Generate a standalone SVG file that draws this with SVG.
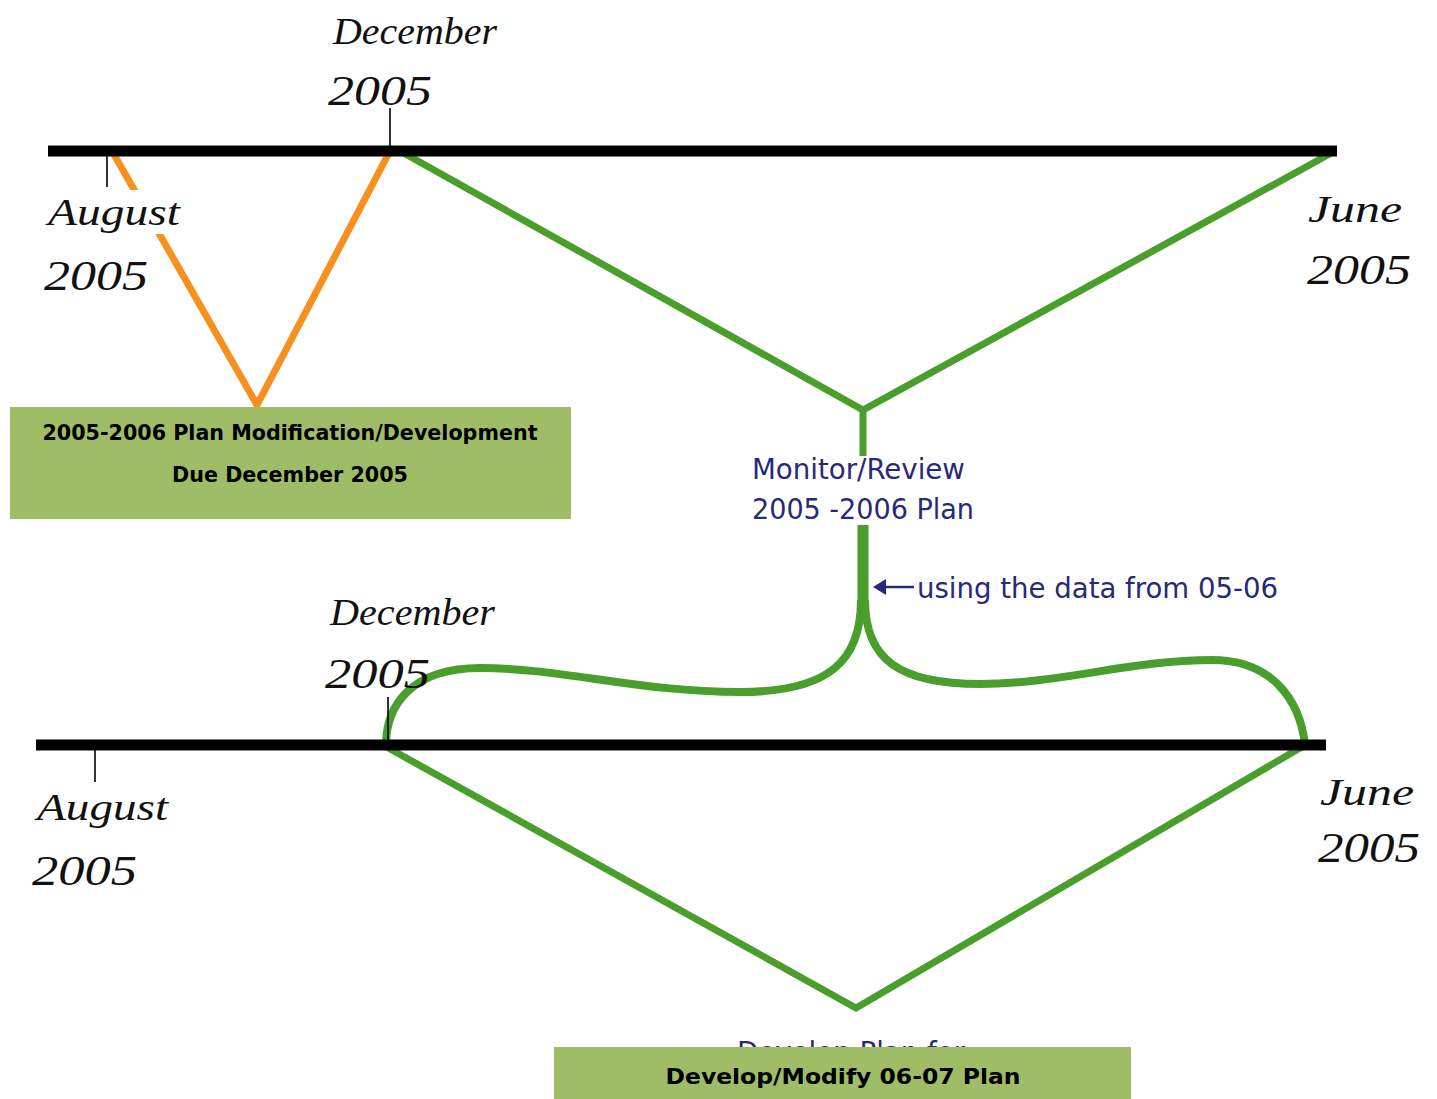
<svg xmlns="http://www.w3.org/2000/svg" width="1437" height="1099" viewBox="0 0 1437 1099">
<defs>
<style>
.axis{stroke:#000;stroke-width:11;stroke-linecap:butt;fill:none}
.tick{stroke:#000;stroke-width:1.6;fill:none}
.green{stroke:#4A9E2C;stroke-width:7;fill:none;stroke-linejoin:miter;stroke-linecap:butt}
.curve{stroke-width:8}
.orange{stroke:#F7901E;stroke-width:7;fill:none;stroke-linejoin:miter}
.script{font-family:"Liberation Serif","DejaVu Serif",serif;font-style:italic;fill:#111}
.blue{font-family:"DejaVu Sans Condensed","DejaVu Sans",sans-serif;fill:#27297A;font-size:29px}
.box{fill:#9FBD66}
.boxt{font-family:"DejaVu Sans","Liberation Sans",sans-serif;font-weight:bold;font-size:21px;fill:#000;text-anchor:middle}
</style>
<clipPath id="above-box"><rect x="700" y="1030" width="300" height="17"/></clipPath>
</defs>
<rect width="1437" height="1099" fill="#fff"/>
<g id="connectors">
<polyline class="orange" points="112,151 257,405 390,151"/>
<polyline class="green" points="400,151 863,410 1335,151"/>
<line class="green" x1="863" y1="408" x2="863" y2="456"/>
<line class="green" x1="863" y1="525" x2="863" y2="615" style="stroke-width:11"/>
<path class="green curve" d="M861 600 C861 660 830 692 740 692 C640 692 560 668 480 668 C412 668 386 705 386 745"/>
<path class="green curve" d="M865 600 C865 660 900 684 980 684 C1060 684 1130 660 1212 660 C1272 660 1300 700 1305 745"/>
<polyline class="green" points="383,745 856,1008 1305,745"/>
</g>
<g id="timeline-top">
<line class="axis" x1="48" y1="151" x2="1337" y2="151"/>
<line class="tick" x1="107" y1="151" x2="107" y2="187"/>
<line class="tick" x1="390" y1="108" x2="390" y2="151"/>
</g>
<g id="timeline-bottom">
<line class="axis" x1="36" y1="745" x2="1326" y2="745"/>
<line class="tick" x1="95" y1="745" x2="95" y2="782"/>
<line class="tick" x1="388" y1="697" x2="388" y2="745"/>
</g>
<g id="label-aug-top">
<rect x="44" y="190" width="140" height="44" fill="#fff"/>
<text class="script" x="48" y="225" font-size="38" textLength="132" lengthAdjust="spacingAndGlyphs">August</text>
<text class="script" x="44" y="290" font-size="42" textLength="104" lengthAdjust="spacingAndGlyphs">2005</text>
</g>
<g id="label-dec-top">
<text class="script" x="333" y="44" font-size="38" textLength="164" lengthAdjust="spacingAndGlyphs">December</text>
<text class="script" x="328" y="105" font-size="42" textLength="104" lengthAdjust="spacingAndGlyphs">2005</text>
</g>
<g id="label-jun-top">
<text class="script" x="1308" y="222" font-size="38" textLength="94" lengthAdjust="spacingAndGlyphs">June</text>
<text class="script" x="1307" y="284" font-size="42" textLength="104" lengthAdjust="spacingAndGlyphs">2005</text>
</g>
<g id="label-dec-bottom">
<text class="script" x="330" y="625" font-size="38" textLength="165" lengthAdjust="spacingAndGlyphs">December</text>
<text class="script" x="325" y="688" font-size="42" textLength="105" lengthAdjust="spacingAndGlyphs">2005</text>
</g>
<g id="label-aug-bottom">
<text class="script" x="37" y="820" font-size="38" textLength="131" lengthAdjust="spacingAndGlyphs">August</text>
<text class="script" x="32" y="885" font-size="42" textLength="105" lengthAdjust="spacingAndGlyphs">2005</text>
</g>
<g id="label-jun-bottom">
<text class="script" x="1320" y="805" font-size="38" textLength="94" lengthAdjust="spacingAndGlyphs">June</text>
<text class="script" x="1318" y="862" font-size="42" textLength="102" lengthAdjust="spacingAndGlyphs">2005</text>
</g>
<g id="monitor-review">
<text class="blue" x="752" y="479" textLength="213" lengthAdjust="spacingAndGlyphs">Monitor/Review</text>
<text class="blue" x="752" y="519" textLength="222" lengthAdjust="spacingAndGlyphs">2005 -2006 Plan</text>
</g>
<g id="using-data">
<line x1="880" y1="587" x2="914" y2="587" stroke="#27297A" stroke-width="2.5"/>
<polygon points="873,587 886,579 886,595" fill="#27297A"/>
<text class="blue" x="917" y="598" textLength="361" lengthAdjust="spacingAndGlyphs">using the data from 05-06</text>
</g>
<g id="develop-hidden" clip-path="url(#above-box)">
<text class="blue" x="737" y="1062" textLength="228" lengthAdjust="spacingAndGlyphs">Develop Plan for</text>
</g>
<g id="box-2005-2006">
<rect class="box" x="10" y="407" width="561" height="112"/>
<text class="boxt" x="290" y="440" textLength="495" lengthAdjust="spacingAndGlyphs">2005-2006 Plan Modification/Development</text>
<text class="boxt" x="290" y="482" textLength="236" lengthAdjust="spacingAndGlyphs">Due December 2005</text>
</g>
<g id="box-06-07">
<rect class="box" x="554" y="1047" width="577" height="52"/>
<text class="boxt" x="843" y="1084" textLength="355" lengthAdjust="spacingAndGlyphs">Develop/Modify 06-07 Plan</text>
</g>
</svg>
